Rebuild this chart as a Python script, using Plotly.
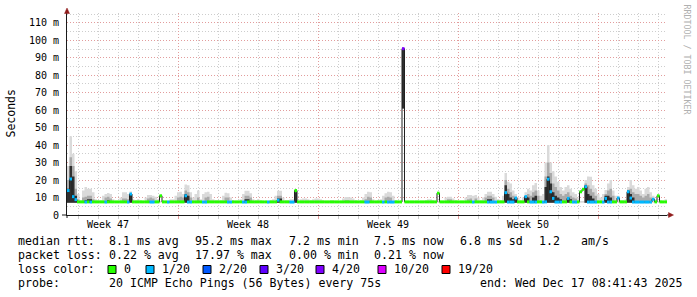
import plotly.graph_objects as go
from datetime import datetime, timedelta

# ---------------- data (3-hour samples, 30 days) ----------------
START = datetime(2025, 11, 17, 10, 30)
STEP_HOURS = 3

median_ms = [
    14.0, 20.6, 10.5, 8.8, 7.5, 7.5, 7.5, 7.4, 7.5, 7.4, 7.5, 7.5, 7.5, 7.5, 7.5, 7.4, 7.5, 7.5, 7.5, 7.5,
    7.5, 7.5, 7.5, 7.5, 7.4, 12.0, 7.5, 7.5, 7.5, 7.5, 7.5, 7.5, 7.5, 7.4, 7.4, 7.5, 7.5, 11.0, 7.5, 7.5,
    7.4, 7.5, 7.5, 7.5, 7.5, 7.5, 7.5, 11.0, 7.4, 7.4, 7.5, 7.5, 7.5, 7.5, 7.4, 7.4, 7.5, 7.5, 7.5, 7.5,
    7.5, 7.5, 7.5, 7.5, 7.4, 7.4, 7.5, 7.5, 7.5, 7.5, 7.4, 7.4, 7.5, 7.5, 7.5, 7.5, 7.5, 7.5, 7.5, 7.5,
    7.4, 7.5, 7.5, 7.5, 8.5, 7.5, 7.5, 7.5, 7.5, 7.4, 7.4, 14.0, 7.5, 7.5, 7.5, 7.5, 7.5, 7.5, 7.5, 7.5,
    7.5, 7.5, 7.5, 7.5, 7.5, 7.5, 7.5, 7.5, 7.5, 7.5, 7.5, 7.5, 7.5, 7.5, 7.5, 7.5, 7.5, 7.5, 7.5, 7.4,
    7.4, 7.5, 7.5, 7.5, 7.5, 7.5, 7.4, 7.5, 7.4, 7.4, 7.4, 7.5, 7.5, 7.5, 95.2, 7.5, 7.5, 7.5, 7.5, 7.5,
    7.5, 7.5, 7.5, 7.5, 7.5, 7.5, 7.5, 7.5, 12.5, 7.5, 7.5, 7.5, 7.5, 7.5, 7.5, 7.5, 7.5, 7.5, 7.5, 7.5,
    7.5, 7.5, 7.4, 7.5, 7.5, 7.5, 7.5, 7.5, 7.4, 7.4, 7.4, 7.4, 7.5, 7.5, 7.5, 12.8, 7.4, 7.4, 7.4, 9.7,
    7.5, 7.5, 7.5, 10.5, 7.5, 7.4, 7.4, 7.4, 7.5, 7.5, 7.4, 7.5, 20.5, 13.3, 9.5, 7.4, 7.4, 7.4, 7.5, 7.5,
    9.5, 7.5, 7.4, 7.4, 7.5, 13.3, 14.7, 16.2, 7.4, 7.4, 7.4, 7.4, 7.5, 7.5, 7.4, 9.5, 7.4, 7.4, 7.5, 7.5,
    9.7, 7.5, 7.5, 7.5, 13.3, 9.7, 7.4, 7.4, 7.4, 7.4, 7.4, 7.4, 7.4, 7.4, 9.0, 7.5, 11.0, 7.5, 7.5, 7.5,
]

loss_pings = [
    1, 1, 1, 1, 0, 0, 0, 1, 0, 1, 0, 0, 0, 0, 0, 1, 0, 0, 0, 0,
    0, 0, 0, 0, 1, 1, 0, 0, 0, 0, 0, 0, 0, 1, 1, 0, 0, 0, 0, 0,
    1, 0, 0, 0, 0, 0, 0, 1, 1, 1, 0, 0, 0, 0, 1, 1, 0, 0, 0, 0,
    0, 0, 0, 0, 1, 1, 0, 0, 0, 0, 1, 1, 0, 0, 0, 0, 0, 0, 0, 0,
    1, 0, 0, 0, 1, 0, 0, 0, 0, 1, 1, 0, 0, 0, 0, 0, 0, 0, 0, 0,
    0, 0, 0, 0, 0, 0, 0, 0, 0, 0, 0, 0, 0, 0, 0, 0, 0, 0, 0, 1,
    1, 0, 0, 0, 0, 0, 1, 0, 1, 1, 1, 0, 0, 0, 4, 0, 0, 0, 0, 0,
    0, 0, 0, 0, 0, 0, 0, 0, 0, 0, 0, 0, 0, 0, 0, 0, 0, 0, 0, 0,
    0, 0, 1, 0, 0, 0, 0, 0, 1, 1, 1, 1, 0, 0, 0, 1, 1, 1, 1, 1,
    0, 0, 0, 1, 0, 1, 1, 1, 0, 0, 1, 1, 1, 1, 1, 1, 1, 1, 0, 0,
    1, 0, 1, 1, 0, 0, 0, 1, 1, 1, 1, 1, 0, 0, 1, 1, 1, 1, 0, 0,
    1, 0, 0, 0, 1, 1, 1, 1, 1, 1, 1, 1, 1, 1, 1, 0, 0, 0, 0, 0,
]

smoke_min = [
    7.0, 7.0, 7.0, 7.0, 7.0, 7.0, 7.0, 7.0, 7.0, 7.0, 7.0, 7.0, 7.0, 7.0, 7.0, 7.0, 7.0, 7.0, 7.0, 7.0,
    7.0, 7.0, 7.0, 7.0, 7.0, 7.0, 7.0, 7.0, 7.0, 7.0, 7.0, 7.0, 7.0, 7.0, 7.0, 7.0, 7.0, 7.0, 7.0, 7.0,
    7.0, 7.0, 7.0, 7.0, 7.0, 7.0, 7.0, 7.0, 7.0, 7.0, 7.0, 7.0, 7.0, 7.0, 7.0, 7.0, 7.0, 7.0, 7.0, 7.0,
    7.0, 7.0, 7.0, 7.0, 7.0, 7.0, 7.0, 7.0, 7.0, 7.0, 7.0, 7.0, 7.0, 7.0, 7.0, 7.0, 7.0, 7.0, 7.0, 7.0,
    7.0, 7.0, 7.0, 7.0, 7.0, 7.0, 7.0, 7.0, 7.0, 7.0, 7.0, 7.0, 7.0, 7.0, 7.0, 7.0, 7.0, 7.0, 7.0, 7.0,
    7.0, 7.0, 7.0, 7.0, 7.0, 7.0, 7.0, 7.0, 7.0, 7.0, 7.0, 7.0, 7.0, 7.0, 7.0, 7.0, 7.0, 7.0, 7.0, 7.0,
    7.0, 7.0, 7.0, 7.0, 7.0, 7.0, 7.0, 7.0, 7.0, 7.0, 7.0, 7.0, 7.0, 7.0, 61.0, 7.0, 7.0, 7.0, 7.0, 7.0,
    7.0, 7.0, 7.0, 7.0, 7.0, 7.0, 7.0, 7.0, 7.0, 7.0, 7.0, 7.0, 7.0, 7.0, 7.0, 7.0, 7.0, 7.0, 7.0, 7.0,
    7.0, 7.0, 7.0, 7.0, 7.0, 7.0, 7.0, 7.0, 7.0, 7.0, 7.0, 7.0, 7.0, 7.0, 7.0, 7.0, 7.0, 7.0, 7.0, 7.0,
    7.0, 7.0, 7.0, 7.0, 7.0, 7.0, 7.0, 7.0, 7.0, 7.0, 7.0, 7.0, 7.0, 7.0, 7.0, 7.0, 7.0, 7.0, 7.0, 7.0,
    7.0, 7.0, 7.0, 7.0, 7.0, 7.0, 7.0, 7.0, 7.0, 7.0, 7.0, 7.0, 7.0, 7.0, 7.0, 7.0, 7.0, 7.0, 7.0, 7.0,
    7.0, 7.0, 7.0, 7.0, 7.0, 7.0, 7.0, 7.0, 7.0, 7.0, 7.0, 7.0, 7.0, 7.0, 7.0, 7.0, 7.0, 7.0, 7.0, 7.0,
]

smoke_light = [
    28, 45, 35, 25, 12, 8.5, 14, 16, 15, 15, 13, 9, 8.5, 8.5, 11, 12, 12.6, 12, 9, 8,
    8, 10, 13, 13, 12, 13.5, 9, 8.5, 9, 8.5, 8, 10, 11.4, 11.4, 11, 10.5, 9, 8, 8.5, 8,
    8.5, 9, 9, 11, 13, 13.3, 12, 17.5, 17, 13, 10, 12, 14, 9, 12, 13, 13.3, 12, 9, 8.5,
    8.5, 8.5, 11, 12.8, 12.4, 10, 8.5, 8, 8, 9, 12, 13.9, 13.9, 12.5, 9, 8.5, 9, 8.5, 8, 8,
    8.5, 8.5, 9, 11, 13.9, 13.9, 10, 8.5, 8.5, 9, 9, 14, 8, 9, 9.5, 9.5, 9, 8.5, 9, 9.5,
    9.5, 9, 8.5, 8, 8, 8.5, 8.5, 8, 8, 8, 9.5, 10.3, 10.3, 10, 9.5, 8.5, 8, 8.5, 10, 12,
    13.3, 13, 9, 8, 8.5, 9, 11, 12.5, 13.3, 13, 11, 8.5, 8, 8, 95.2, 8, 8, 8, 8, 8,
    8, 8, 8, 8.5, 9, 9, 8.5, 8, 8, 8, 8, 10, 10.5, 10.5, 9.5, 8.5, 8, 8, 8, 10,
    11.4, 11.4, 11, 11.4, 10, 8.5, 10, 12, 13.3, 13.3, 12, 10.5, 9, 8.5, 11, 24, 19, 18, 14, 12,
    10, 8.5, 10, 13, 15, 14, 17, 18.3, 14, 11, 12, 30, 40, 30, 25, 22, 19, 16, 14, 16,
    17, 15, 13, 12, 10, 8, 8, 20, 22, 21.9, 17, 15, 12, 10, 12, 14.3, 18, 20, 14, 11,
    11, 8.5, 8.5, 9, 16, 20, 17, 15, 16, 14, 12, 15, 16, 13, 11, 9, 8, 8.5, 8, 9,
]

smoke_mid = [
    20, 33, 28, 15, 9, 7, 10, 10.5, 11, 11, 9, 7, 7, 7, 7, 10, 10.5, 9.5, 7, 7,
    7, 7, 9.5, 9.5, 9, 12.5, 7, 7, 7, 7, 7, 7, 9.5, 10, 9.5, 7, 7, 7, 7, 7,
    7, 7, 7, 7, 10, 10.5, 10, 14, 13, 10, 7, 7, 10, 7, 7, 10, 10.5, 7, 7, 7,
    7, 7, 7, 10, 10, 7, 7, 7, 7, 7, 7, 11, 11, 10, 7, 7, 7, 7, 7, 7,
    7, 7, 7, 7, 11, 11, 7, 7, 7, 7, 7, 14, 7, 7, 7, 7, 7, 7, 7, 7,
    7, 7, 7, 7, 7, 7, 7, 7, 7, 7, 7, 8.5, 8.5, 7, 7, 7, 7, 7, 7, 9,
    10.5, 10, 7, 7, 7, 7, 7, 10, 10.5, 10, 7, 7, 7, 7, 95.2, 7, 7, 7, 7, 7,
    7, 7, 7, 7, 7, 7, 7, 7, 7, 7, 7, 7, 9, 9, 7, 7, 7, 7, 7, 7,
    9, 9.5, 7, 9.5, 7, 7, 7, 10, 11, 11, 10, 7, 7, 7, 7, 20, 15, 13, 11, 10,
    7, 7, 7, 11, 12, 11, 13, 14, 11, 7, 7, 22, 30, 24, 18, 16, 14, 12, 11, 12,
    13, 11, 10, 9.5, 7, 7, 7, 18, 17, 15, 13, 11, 7, 7, 7, 12, 14, 15, 11, 7,
    7, 7, 7, 7, 14.5, 15, 13, 12, 12, 11, 10, 11, 12, 10, 7, 7, 7, 7, 7, 7,
]

smoke_dark = [
    15, 28, 22, 11, 8, 7, 7, 8.5, 9, 9, 7, 7, 7, 7, 7, 7, 8.5, 7, 7, 7,
    7, 7, 7, 7, 7, 12, 7, 7, 7, 7, 7, 7, 7, 7, 7, 7, 7, 7, 7, 7,
    7, 7, 7, 7, 7, 7, 7, 12, 11, 7, 7, 7, 7, 7, 7, 7, 7, 7, 7, 7,
    7, 7, 7, 7, 7, 7, 7, 7, 7, 7, 7, 9, 9, 7, 7, 7, 7, 7, 7, 7,
    7, 7, 7, 7, 9.5, 9.5, 7, 7, 7, 7, 7, 13, 7, 7, 7, 7, 7, 7, 7, 7,
    7, 7, 7, 7, 7, 7, 7, 7, 7, 7, 7, 7, 7, 7, 7, 7, 7, 7, 7, 7,
    7, 7, 7, 7, 7, 7, 7, 7, 7, 7, 7, 7, 7, 7, 95.2, 7, 7, 7, 7, 7,
    7, 7, 7, 7, 7, 7, 7, 7, 7, 7, 7, 7, 7, 7, 7, 7, 7, 7, 7, 7,
    7, 7, 7, 7, 7, 7, 7, 7, 9, 9, 7, 7, 7, 7, 7, 17, 12, 10, 9, 9.7,
    7, 7, 7, 10.5, 10, 7, 10, 11, 7, 7, 7, 16, 22, 18, 13, 11, 10, 9, 7, 7,
    10, 9, 7, 7, 7, 7, 7, 17, 12, 11, 9.5, 7, 7, 7, 7, 11, 11, 10, 7, 7,
    7, 7, 7, 7, 14, 12, 10, 7, 7, 7, 7, 7, 7, 7, 7, 7, 7, 7, 7, 7,
]

loss_levels = [0, 1, 2, 3, 4, 10, 19]
loss_labels = ["0", "1/20", "2/20", "3/20", "4/20", "10/20", "19/20"]
loss_colors = ["#26ff00", "#00b8ff", "#0059ff", "#5e00ff", "#7e00ff", "#dd00ff", "#ff0000"]

y_tick_values = [0, 10, 20, 30, 40, 50, 60, 70, 80, 90, 100, 110]
y_tick_labels = ["0", "10 m", "20 m", "30 m", "40 m", "50 m", "60 m", "70 m", "80 m", "90 m", "100 m", "110 m"]

week_labels = ["Week 47", "Week 48", "Week 49", "Week 50"]
week_centers = ["2025-11-19 12:00", "2025-11-26 12:00", "2025-12-03 12:00", "2025-12-10 12:00"]

rtt_stats = ["median rtt:", "8.1 ms avg", "95.2 ms max", "7.2 ms min", "7.5 ms now", "6.8 ms sd", "1.2", "am/s"]
loss_stats = ["packet loss:", "0.22 % avg", "17.97 % max", "0.00 % min", "0.21 % now"]
probe_text = ["probe:", "20 ICMP Echo Pings (56 Bytes) every 75s", "end: Wed Dec 17 08:41:43 2025"]

# ---------------- figure ----------------
N = len(median_ms)
times = [START + timedelta(hours=STEP_HOURS * k) for k in range(N + 1)]
END = times[-1]


def ext(a):
    return list(a) + [a[-1]]


fig = go.Figure()

for upper, color in [(smoke_light, "#dadada"), (smoke_mid, "#aaaaaa"), (smoke_dark, "#303030")]:
    fig.add_trace(go.Scatter(x=times, y=ext(smoke_min), mode="lines",
                             line=dict(width=0, shape="hv"), hoverinfo="skip", showlegend=False))
    fig.add_trace(go.Scatter(x=times, y=ext(upper), mode="lines", fill="tonexty",
                             fillcolor=color, line=dict(width=0, shape="hv"),
                             hoverinfo="skip", showlegend=False))

fig.add_trace(go.Scatter(x=times, y=ext(median_ms), mode="lines",
                         line=dict(width=1, color="#202020", shape="hv"),
                         hoverinfo="skip", showlegend=False))


def level_of(n):
    idx = 0
    for i, lv in enumerate(loss_levels):
        if n >= lv:
            idx = i
    return idx


for li, col in enumerate(loss_colors):
    xs, ys = [], []
    for k in range(N):
        if level_of(loss_pings[k]) == li:
            xs += [times[k], times[k + 1], None]
            ys += [median_ms[k], median_ms[k], None]
    if xs:
        fig.add_trace(go.Scatter(x=xs, y=ys, mode="lines", line=dict(width=3, color=col),
                                 hoverinfo="skip", showlegend=False))

MONO = "DejaVu Sans Mono"
RED = "#e29c9c"
GRAY = "#cdcdcd"
DASH = "1px,2px"

L, T, W, H = 67, 13, 600, 202


def px(x):
    return (x - L) / W


def py(y):
    return (T + H - y) / H


fig.update_layout(
    width=697, height=297,
    margin=dict(l=L, r=697 - L - W, t=T, b=297 - T - H),
    paper_bgcolor="white", plot_bgcolor="white",
    font=dict(family=MONO, color="black"),
    hovermode=False,
    xaxis=dict(
        type="date", range=[START, END],
        showgrid=True, gridcolor=RED, griddash=DASH, gridwidth=1,
        tick0="2025-11-16", dtick=7 * 86400000,
        showticklabels=False, ticks="outside", ticklen=3, tickcolor=RED,
        showline=True, linecolor="#1a1a1a", linewidth=1, zeroline=False,
        minor=dict(dtick=86400000, tick0="2025-11-16", showgrid=True, gridcolor=GRAY,
                   griddash=DASH, ticks="outside", ticklen=3, tickcolor=GRAY),
    ),
    yaxis=dict(
        range=[0, 115.6], tickvals=y_tick_values, ticktext=y_tick_labels,
        showgrid=True, gridcolor=RED, griddash=DASH, gridwidth=1,
        ticks="", ticklabelstandoff=5,
        tickfont=dict(family=MONO, size=10, color="black"),
        showline=True, linecolor="#1a1a1a", linewidth=1, zeroline=False,
        minor=dict(dtick=5, tick0=0, showgrid=True, gridcolor=GRAY, griddash=DASH),
    ),
)

annotations = []
shapes = []

# week labels
for lab, c in zip(week_labels, week_centers):
    annotations.append(dict(x=c, xref="x", y=py(224.5), yref="paper", text=lab, showarrow=False,
                            xanchor="center", yanchor="middle", font=dict(family=MONO, size=10)))

# y title
annotations.append(dict(x=px(10.5), y=py(114), xref="paper", yref="paper", text="Seconds",
                        textangle=-90, showarrow=False, xanchor="center", yanchor="middle",
                        font=dict(family=MONO, size=11.5)))

# watermark
annotations.append(dict(x=px(686.5), y=py(59), xref="paper", yref="paper",
                        text="RRDTOOL / TOBI OETIKER", textangle=90, showarrow=False,
                        xanchor="center", yanchor="middle",
                        font=dict(family=MONO, size=8.3, color="#b0b0b0")))

LEG = 11.6


def leg_text(txt, x, y):
    annotations.append(dict(x=px(x), y=py(y), xref="paper", yref="paper", text=txt,
                            showarrow=False, xanchor="left", yanchor="middle",
                            font=dict(family=MONO, size=LEG, color="black")))


row_y = [240.7, 255.0, 269.3, 283.3]
rtt_x = [16, 107.3, 193.3, 286.7, 372.3, 458.3, 537.3, 579.3]
for t, x in zip(rtt_stats, rtt_x):
    leg_text(t, x, row_y[0])
loss_x = [16, 107.3, 193.3, 286.7, 372.3]
for t, x in zip(loss_stats, loss_x):
    leg_text(t, x, row_y[1])
leg_text("loss color:", 16, row_y[2])
box_x = [108, 146, 203, 260, 316, 378, 442]
for lab, col, bx in zip(loss_labels, loss_colors, box_x):
    shapes.append(dict(type="rect", xref="paper", yref="paper",
                       x0=px(bx), x1=px(bx + 8), y0=py(273.5), y1=py(265.5),
                       fillcolor=col, line=dict(color="black", width=1)))
    leg_text(lab, bx + 13.5, row_y[2])
probe_x = [16, 107.3, 478.3]
for t, x in zip(probe_text, probe_x):
    leg_text(t, x, row_y[3])

# axis extensions and arrows
ARROW = "#901c1c"
shapes.append(dict(type="line", xref="paper", yref="paper", x0=px(62), x1=px(67), y0=py(215), y1=py(215),
                   line=dict(color="#1a1a1a", width=1)))
shapes.append(dict(type="line", xref="paper", yref="paper", x0=px(667), x1=px(669), y0=py(215), y1=py(215),
                   line=dict(color="#1a1a1a", width=1)))
shapes.append(dict(type="line", xref="paper", yref="paper", x0=px(67), x1=px(67), y0=py(215), y1=py(218),
                   line=dict(color="#1a1a1a", width=1)))
shapes.append(dict(type="path", xref="paper", yref="paper",
                   path=f"M {px(67)},{py(8)} L {px(64.5)},{py(13.5)} L {px(69.5)},{py(13.5)} Z",
                   fillcolor=ARROW, line=dict(color=ARROW, width=0.5)))
shapes.append(dict(type="path", xref="paper", yref="paper",
                   path=f"M {px(673.5)},{py(215)} L {px(668.5)},{py(212.5)} L {px(668.5)},{py(217.5)} Z",
                   fillcolor=ARROW, line=dict(color=ARROW, width=0.5)))

fig.update_layout(annotations=annotations, shapes=shapes)

fig.write_html("out.html")
